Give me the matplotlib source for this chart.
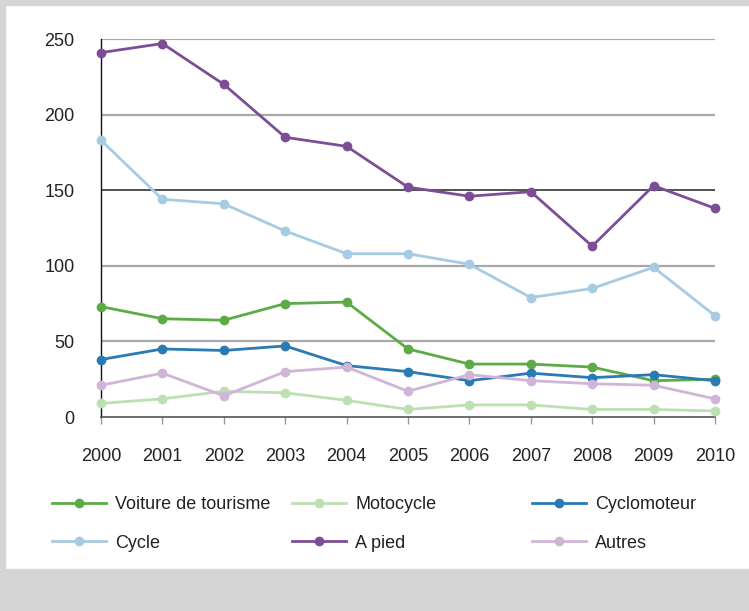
import matplotlib.pyplot as plt
from matplotlib.patches import Rectangle

years = [2000, 2001, 2002, 2003, 2004, 2005, 2006, 2007, 2008, 2009, 2010]

voiture = [73, 65, 64, 75, 76, 45, 35, 35, 33, 24, 25]
motocycle = [9, 12, 17, 16, 11, 5, 8, 8, 5, 5, 4]
cyclomoteur = [38, 45, 44, 47, 34, 30, 24, 29, 26, 28, 24]
cycle = [183, 144, 141, 123, 108, 108, 101, 79, 85, 99, 67]
a_pied = [241, 247, 220, 185, 179, 152, 146, 149, 113, 153, 138]
autres = [21, 29, 14, 30, 33, 17, 28, 24, 22, 21, 12]

series_names = ["Voiture de tourisme", "Motocycle", "Cyclomoteur", "Cycle", "A pied", "Autres"]
series_values = [voiture, motocycle, cyclomoteur, cycle, a_pied, autres]
colors = ["#5cab47", "#bde0b3", "#2a7ab5", "#a6cbe2", "#7d4e96", "#d0b5d8"]

y_ticks = [0, 50, 100, 150, 200, 250]

plt.rcParams["font.family"] = ["Liberation Sans", "DejaVu Sans"]

fig = plt.figure(figsize=(7.49, 6.11), dpi=100)
fig.patch.set_facecolor("white")

# grey frame around the white panel
grey = "#d5d5d5"
fig.patches.append(Rectangle((0, 0), 1, 42 / 611, transform=fig.transFigure, color=grey, zorder=0))
fig.patches.append(Rectangle((0, 1 - 5 / 611), 1, 5 / 611, transform=fig.transFigure, color=grey, zorder=0))
fig.patches.append(Rectangle((0, 0), 5 / 749, 1, transform=fig.transFigure, color=grey, zorder=0))

ax = fig.add_axes([101 / 749, 1 - 417 / 611, (715 - 101) / 749, (417 - 39) / 611])
ax.set_facecolor("none")

lines = []
for name, vals, col in zip(series_names, series_values, colors):
    (ln,) = ax.plot(years, vals, color=col, linewidth=2.0, marker="o", markersize=6,
                    label=name, clip_on=False, zorder=3)
    lines.append(ln)

ax.set_xlim(2000, 2010)
ax.set_ylim(0, 250)
ax.set_yticks(y_ticks)
ax.set_xticks(years)
ax.set_xticklabels([str(y) for y in years])

for t in y_ticks[1:]:
    if t == 150:
        ax.axhline(t, color="#222222", linewidth=1.1, zorder=1)
    else:
        ax.axhline(t, color="#a8a8a8", linewidth=1.6, zorder=1)

for side in ["top", "right"]:
    ax.spines[side].set_visible(False)
ax.spines["left"].set_color("#111111")
ax.spines["left"].set_linewidth(1.0)
ax.spines["bottom"].set_color("#555555")
ax.spines["bottom"].set_linewidth(1.2)

ax.tick_params(axis="y", length=0, pad=19, labelsize=13, labelcolor="#222222")
ax.tick_params(axis="x", length=5, width=1, color="#999999", direction="out",
               pad=17, labelsize=13, labelcolor="#222222")

# legend, three columns placed one by one
col_x = [52 / 749, 292 / 749, 532 / 749]
for i, x0 in enumerate(col_x):
    handles = [lines[i], lines[i + 3]]
    leg = fig.legend(handles=handles, labels=[h.get_label() for h in handles],
                     loc="upper left", bbox_to_anchor=(x0, 1 - 496 / 611),
                     frameon=False, fontsize=13, handlelength=3.0, handletextpad=0.5,
                     labelspacing=1.2, borderaxespad=0, borderpad=0)
    for txt in leg.get_texts():
        txt.set_color("#222222")

fig.savefig("out.png", dpi=100)
